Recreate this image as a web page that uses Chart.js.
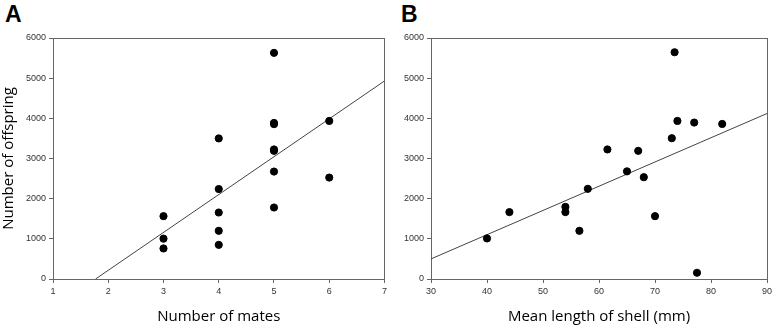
<!DOCTYPE html>
<html>
<head>
<meta charset="utf-8">
<script src="https://cdn.jsdelivr.net/npm/chart.js@4"></script>
<style>
  body { margin:0; background:#fff; width:777px; height:326px; position:relative; overflow:hidden; }
  .panel { position:absolute; top:0; height:326px; }
  .letter { position:absolute; top:1px; font-family:"Liberation Sans", Arial, sans-serif; font-weight:bold; font-size:23px; line-height:26px; color:#000; }
</style>
</head>
<body>
<div class="letter" style="left:5px">A</div>
<div class="letter" style="left:401px">B</div>
<div class="panel" style="left:0;width:390px"><canvas id="chartA" width="390" height="326"></canvas></div>
<div class="panel" style="left:390px;width:387px"><canvas id="chartB" width="387" height="326"></canvas></div>
<script>
// panel A: number of mates vs offspring
var matesX = [3, 3, 3, 4, 4, 4, 4, 4, 5, 5, 5, 5, 5, 5, 5, 6, 6];
var matesY = [1565, 1005, 760, 3500, 2240, 1655, 1200, 850, 5630, 3885, 3855, 3225, 3190, 2675, 1780, 3935, 2525];
var fitAX = [1.77, 7];
var fitAY = [0, 4930];

// panel B: mean shell length vs offspring
var shellX = [40, 44, 54, 54, 56.5, 58, 61.5, 65, 67, 68, 70, 73, 73.5, 74, 77, 82, 77.5];
var shellY = [1010, 1665, 1795, 1665, 1200, 2245, 3225, 2680, 3190, 2535, 1565, 3505, 5645, 3935, 3895, 3860, 155];
var fitBX = [30, 90];
var fitBY = [500, 4120];

var yTicksMax = 6000;
var tickFont = { family: "Liberation Sans", size: 9 };
var titleFont = { family: "Open Sans", size: 15 };
var axisCol = "#666";

function pts(xs, ys){
    var out = [];
    for(var i=0;i<xs.length;i++){
        out.push({x:xs[i], y:ys[i]});
    }
    return out;
}

function makeChart(id, xs, ys, fx, fy, xmin, xmax, xstep, xTitle, yTitle, yWidth, padRight){
    var ctx = document.getElementById(id).getContext("2d");
    return new Chart(ctx, {
        type: "scatter",
        data: {
            datasets: [{
                data: pts(xs, ys),
                backgroundColor: "#000",
                borderColor: "#000",
                pointRadius: 3.6,
                pointHoverRadius: 3.6,
                order: 1
            }, {
                type: "line",
                data: pts(fx, fy),
                borderColor: "#444",
                borderWidth: 1,
                pointRadius: 0,
                fill: false,
                order: 2
            }]
        },
        options: {
            responsive: false,
            animation: false,
            layout: { padding: { left: 0, top: 38, right: padRight, bottom: 0 } },
            plugins: { legend: { display: false }, tooltip: { enabled: false } },
            scales: {
                x: {
                    type: "linear",
                    position: "bottom",
                    min: xmin, max: xmax,
                    ticks: { stepSize: xstep, color: "#333", font: tickFont, padding: 3, format: { useGrouping: false } },
                    grid: { drawOnChartArea: false, drawTicks: true, tickLength: 4, color: axisCol },
                    border: { color: axisCol, width: 1 },
                    title: { display: true, text: xTitle, color: "#000", font: titleFont, padding: { top: 8, bottom: 0 } },
                    afterFit: function(scale){ scale.height = 47; }
                },
                y: {
                    type: "linear",
                    position: "left",
                    min: 0, max: yTicksMax,
                    ticks: { stepSize: 1000, color: "#333", font: tickFont, padding: 3, format: { useGrouping: false } },
                    grid: { drawOnChartArea: false, drawTicks: true, tickLength: 4, color: axisCol },
                    border: { color: axisCol, width: 1 },
                    title: { display: yTitle != "", text: yTitle, color: "#000", font: titleFont, padding: 0 },
                    afterFit: function(scale){ scale.width = yWidth; }
                },
                xTop: {
                    type: "linear", position: "top", min: xmin, max: xmax,
                    ticks: { display: false },
                    grid: { display: false },
                    border: { color: axisCol, width: 1 },
                    afterFit: function(scale){ scale.height = 0; }
                },
                yRight: {
                    type: "linear", position: "right", min: 0, max: yTicksMax,
                    ticks: { display: false },
                    grid: { display: false },
                    border: { color: axisCol, width: 1 },
                    afterFit: function(scale){ scale.width = 0; }
                }
            }
        }
    });
}

makeChart("chartA", matesX, matesY, fitAX, fitAY, 1, 7, 1, "Number of mates", "Number of offspring", 53, 3);
makeChart("chartB", shellX, shellY, fitBX, fitBY, 30, 90, 10, "Mean length of shell (mm)", "", 41, 10);
</script>
</body>
</html>
